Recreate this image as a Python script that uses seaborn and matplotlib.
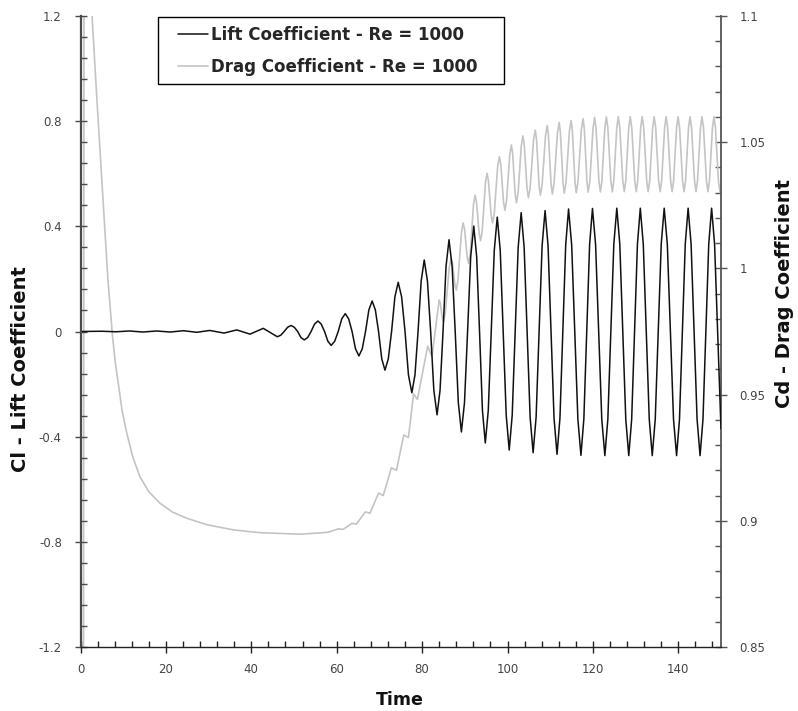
import matplotlib
matplotlib.use('Agg')
import matplotlib.pyplot as plt
import seaborn as sns
from matplotlib.patches import Rectangle
from matplotlib.ticker import MultipleLocator, FuncFormatter

# Lift coefficient (extremum, then three points per half cycle)
lift_time = [0.0, 5.0, 8.3, 11.5, 14.6, 17.8, 21.0, 24.1, 27.2, 30.3,
             33.6, 36.6, 39.7, 42.8,
             46.1, 46.9, 47.7, 48.5,
             49.3, 50.08, 50.85, 51.63,
             52.4, 53.2, 54.0, 54.8,
             55.6, 56.38, 57.15, 57.93,
             58.7, 59.53, 60.35, 61.18,
             62.0, 62.8, 63.6, 64.4,
             65.2, 65.98, 66.75, 67.53,
             68.3, 69.05, 69.8, 70.55,
             71.3, 72.08, 72.85, 73.63,
             74.4, 75.2, 76.0, 76.8,
             77.6, 78.33, 79.05, 79.78,
             80.5, 81.25, 82.0, 82.75,
             83.5, 84.2, 84.9, 85.6,
             86.3, 87.03, 87.75, 88.48,
             89.2, 89.93, 90.65, 91.38,
             92.1, 92.78, 93.45, 94.13,
             94.8, 95.5, 96.2, 96.9,
             97.6, 98.3, 99.0, 99.7,
             100.4, 101.1, 101.8, 102.5,
             103.2, 103.9, 104.6, 105.3,
             106.0, 106.7, 107.4, 108.1,
             108.8, 109.5, 110.2, 110.9,
             111.6, 112.28, 112.95, 113.63,
             114.3, 115.03, 115.75, 116.48,
             117.2, 117.88, 118.55, 119.23,
             119.9, 120.63, 121.35, 122.08,
             122.8, 123.5, 124.2, 124.9,
             125.6, 126.3, 127.0, 127.7,
             128.4, 129.08, 129.75, 130.43,
             131.1, 131.8, 132.5, 133.2,
             133.9, 134.6, 135.3, 136.0,
             136.7, 137.43, 138.15, 138.88,
             139.6, 140.28, 140.95, 141.63,
             142.3, 143.0, 143.7, 144.4,
             145.1, 145.78, 146.45, 147.13,
             147.8, 148.5, 149.2, 150.0]
lift_cl = [0.0, 0.001, -0.001, 0.002, -0.002, 0.002, -0.002, 0.003, -0.003, 0.004,
           -0.006, 0.006, -0.010, 0.012,
           -0.020, -0.014, 0.0, 0.016,
           0.023, 0.016, 0.0, -0.023,
           -0.032, -0.023, 0.0, 0.028,
           0.040, 0.028, 0.0, -0.037,
           -0.053, -0.037, 0.0, 0.048,
           0.068, 0.048, 0.0, -0.066,
           -0.093, -0.066, 0.0, 0.082,
           0.116, 0.082, 0.0, -0.104,
           -0.147, -0.104, 0.0, 0.132,
           0.187, 0.132, 0.0, -0.165,
           -0.233, -0.165, 0.0, 0.192,
           0.272, 0.192, 0.0, -0.224,
           -0.317, -0.224, 0.0, 0.247,
           0.349, 0.247, 0.0, -0.270,
           -0.382, -0.270, 0.0, 0.284,
           0.401, 0.284, 0.0, -0.300,
           -0.424, -0.300, 0.0, 0.308,
           0.435, 0.308, 0.0, -0.319,
           -0.451, -0.319, 0.0, 0.320,
           0.452, 0.320, 0.0, -0.326,
           -0.461, -0.326, 0.0, 0.325,
           0.460, 0.325, 0.0, -0.330,
           -0.467, -0.330, 0.0, 0.329,
           0.466, 0.329, 0.0, -0.333,
           -0.471, -0.333, 0.0, 0.331,
           0.468, 0.331, 0.0, -0.334,
           -0.472, -0.334, 0.0, 0.332,
           0.469, 0.332, 0.0, -0.334,
           -0.472, -0.334, 0.0, 0.332,
           0.469, 0.332, 0.0, -0.334,
           -0.472, -0.334, 0.0, 0.332,
           0.469, 0.332, 0.0, -0.334,
           -0.472, -0.334, 0.0, 0.332,
           0.469, 0.332, 0.0, -0.334,
           -0.472, -0.334, 0.0, 0.332,
           0.469, 0.332, 0.0, -0.37]

# Drag coefficient: start spike, decay, ripples, then oscillation
drag_time = [0.0, 0.7, 0.8, 1.2, 2.0, 2.7, 3.8, 5.2, 6.4, 7.5,
             8.2, 8.8, 9.7, 10.8, 12.2, 13.9, 16.0, 18.6, 21.5, 24.9,
             29.5, 35.8, 42.0, 51.4, 56.9, 58.0, 60.4, 61.5, 63.6, 64.6,
             66.7, 67.8, 69.8, 70.9, 72.8, 74.0, 75.7, 76.8, 78.0, 78.9,
             81.3, 82.3,
             84.0, 84.25, 84.75,
             85.0, 85.45, 86.35,
             86.8, 87.1, 87.7,
             88.0, 88.4, 89.2,
             89.6, 89.93, 90.58,
             90.9, 91.28, 92.03,
             92.4, 92.73, 93.38,
             93.7, 94.08, 94.83,
             95.2, 95.53, 96.18,
             96.5, 96.9, 97.7,
             98.1, 98.43, 99.08,
             99.4, 99.78, 100.53,
             100.9, 101.2, 101.8,
             102.1, 102.48, 103.23,
             103.6, 103.93, 104.58,
             104.9, 105.3, 106.1,
             106.5, 106.8, 107.4,
             107.7, 108.1, 108.9,
             109.3, 109.6, 110.2,
             110.5, 110.9, 111.7,
             112.1, 112.4, 113.0,
             113.3, 113.7, 114.5,
             114.9, 115.2, 115.8,
             116.1, 116.5, 117.3,
             117.7, 118.0, 118.6,
             118.9, 119.28, 120.03,
             120.4, 120.74, 121.41,
             121.75, 122.1, 122.8,
             123.15, 123.5, 124.2,
             124.55, 124.9, 125.6,
             125.95, 126.3, 127.0,
             127.35, 127.7, 128.4,
             128.75, 129.1, 129.8,
             130.15, 130.5, 131.2,
             131.55, 131.9, 132.6,
             132.95, 133.3, 134.0,
             134.35, 134.7, 135.4,
             135.75, 136.1, 136.8,
             137.15, 137.5, 138.2,
             138.55, 138.9, 139.6,
             139.95, 140.3, 141.0,
             141.35, 141.7, 142.4,
             142.75, 143.1, 143.8,
             144.15, 144.5, 145.2,
             145.55, 145.9, 146.6,
             146.95, 147.3, 148.0,
             148.35, 148.7, 149.4,
             149.75, 150.0]
drag_cd = [0.70, 0.85, 1.10, 1.30, 1.20, 1.100, 1.068, 1.029, 0.996, 0.973,
           0.962, 0.955, 0.944, 0.935, 0.9255, 0.9175, 0.9115, 0.907, 0.9035, 0.901,
           0.8985, 0.8964, 0.8953, 0.8947, 0.8953, 0.8955, 0.8968, 0.8966, 0.8990, 0.8987,
           0.9035, 0.9030, 0.9110, 0.9100, 0.9210, 0.9200, 0.9340, 0.9330, 0.9503, 0.9481,
           0.9692, 0.9650,
           0.9875, 0.9862, 0.9802,
           0.9789, 0.9826, 1.0003,
           1.0040, 1.0022, 0.9932,
           0.9914, 0.9953, 1.0141,
           1.0180, 1.0157, 1.0043,
           1.0020, 1.0059, 1.0251,
           1.0290, 1.0264, 1.0136,
           1.0110, 1.0149, 1.0338,
           1.0377, 1.0348, 1.0209,
           1.0180, 1.0218, 1.0405,
           1.0443, 1.0412, 1.0261,
           1.0230, 1.0268, 1.0451,
           1.0489, 1.0456, 1.0293,
           1.0260, 1.0299, 1.0486,
           1.0525, 1.0489, 1.0316,
           1.0280, 1.0319, 1.0509,
           1.0548, 1.0510, 1.0328,
           1.0290, 1.0330, 1.0526,
           1.0566, 1.0526, 1.0335,
           1.0295, 1.0336, 1.0537,
           1.0578, 1.0537, 1.0339,
           1.0298, 1.0340, 1.0544,
           1.0586, 1.0544, 1.0342,
           1.0300, 1.0343, 1.0550,
           1.0593, 1.0551, 1.0344,
           1.0302, 1.0345, 1.0555,
           1.0598, 1.0555, 1.0346,
           1.0303, 1.0346, 1.0557,
           1.0600, 1.0557, 1.0346,
           1.0303, 1.0347, 1.0558,
           1.0601, 1.0558, 1.0347,
           1.0304, 1.0347, 1.0558,
           1.0601, 1.0558, 1.0347,
           1.0304, 1.0347, 1.0558,
           1.0601, 1.0558, 1.0347,
           1.0304, 1.0347, 1.0558,
           1.0601, 1.0558, 1.0347,
           1.0304, 1.0347, 1.0558,
           1.0601, 1.0558, 1.0347,
           1.0304, 1.0347, 1.0558,
           1.0601, 1.0558, 1.0347,
           1.0304, 1.0347, 1.0558,
           1.0601, 1.0558, 1.0347,
           1.0304, 1.0347, 1.0558,
           1.0601, 1.0558, 1.0347,
           1.0304, 1.0347, 1.0558,
           1.0601, 1.0558, 1.0347,
           1.0304, 1.033]

legend_labels = ['Lift Coefficient - Re = 1000', 'Drag Coefficient - Re = 1000']

sns.set_style('ticks')
plt.rcParams['font.family'] = ['DejaVu Sans']

fig = plt.figure(figsize=(7.98, 7.11), dpi=100)
ax = fig.add_axes([0.1009, 0.09, 0.8026, 0.8875])
ax2 = ax.twinx()
# lift axis on top of drag axis
ax.set_zorder(ax2.get_zorder() + 1)
ax.patch.set_visible(False)

sns.lineplot(x=drag_time, y=drag_cd, ax=ax2, color='#c4c4c4', lw=1.2,
             estimator=None, sort=False, legend=False)
sns.lineplot(x=lift_time, y=lift_cl, ax=ax, color='#111111', lw=1.1,
             estimator=None, sort=False, legend=False)

ax.set_xlim(0, 150)
ax.set_ylim(-1.2, 1.2)
ax2.set_ylim(0.85, 1.1)

ax.xaxis.set_major_locator(MultipleLocator(20))
ax.xaxis.set_minor_locator(MultipleLocator(4))
ax.yaxis.set_major_locator(MultipleLocator(0.4))
ax.yaxis.set_minor_locator(MultipleLocator(0.08))
ax2.yaxis.set_major_locator(MultipleLocator(0.05))
ax2.yaxis.set_minor_locator(MultipleLocator(0.01))

fmt = FuncFormatter(lambda v, p: f'{round(v, 3) + 0:g}')
ax.xaxis.set_major_formatter(fmt)
ax.yaxis.set_major_formatter(fmt)
ax2.yaxis.set_major_formatter(fmt)

# spines
ax.spines['top'].set_visible(False)
ax.spines['right'].set_visible(False)
ax2.spines['top'].set_visible(False)
ax2.spines['left'].set_visible(False)
ax2.spines['bottom'].set_visible(False)
ax.spines['left'].set_color('#4a4a4a')
ax.spines['left'].set_linewidth(1.6)
ax.spines['bottom'].set_color('#222222')
ax.spines['bottom'].set_linewidth(1.0)
ax2.spines['right'].set_color('#555555')
ax2.spines['right'].set_linewidth(1.3)

# ticks
ax.tick_params(axis='x', which='major', direction='inout', length=9, width=1,
               color='#222222', labelsize=8.5, labelcolor='#444444', pad=7)
ax.tick_params(axis='x', which='minor', direction='in', length=4.5, width=1, color='#222222')
ax.tick_params(axis='y', which='major', direction='inout', length=9, width=1,
               color='#4a4a4a', labelsize=8.5, labelcolor='#444444', pad=9)
ax.tick_params(axis='y', which='minor', direction='in', length=4.5, width=1, color='#4a4a4a')
ax2.tick_params(axis='y', which='major', direction='inout', length=9, width=1,
                color='#555555', labelsize=8.5, labelcolor='#444444', pad=9)
ax2.tick_params(axis='y', which='minor', direction='in', length=4.5, width=1, color='#555555')

# axis labels
fig.text(0.0263, 0.481, 'Cl - Lift Coefficient', rotation=90, ha='center', va='center',
         fontsize=14, fontweight='bold', color='#111111')
fig.text(0.9837, 0.5865, 'Cd - Drag Coefficient', rotation=90, ha='center', va='center',
         fontsize=14, fontweight='bold', color='#111111')
fig.text(0.5013, 0.0084, 'Time', ha='center', va='baseline',
         fontsize=12.5, fontweight='bold', color='#111111')

# legend with its own frame
frame = Rectangle((0.121, 0.892), 0.540, 0.107, transform=ax.transAxes,
                  facecolor='white', edgecolor='black', lw=1.0, zorder=4, clip_on=False)
ax.add_patch(frame)
handles = [ax.lines[0], ax2.lines[0]]
leg = ax.legend(handles, legend_labels, loc='upper left', bbox_to_anchor=(0.152, 0.984),
                frameon=False, borderpad=0, borderaxespad=0, handlelength=1.8,
                handletextpad=0.2, labelspacing=0.85,
                prop={'weight': 'bold', 'size': 12})
leg.set_zorder(5)

fig.savefig('out.png', dpi=100)
